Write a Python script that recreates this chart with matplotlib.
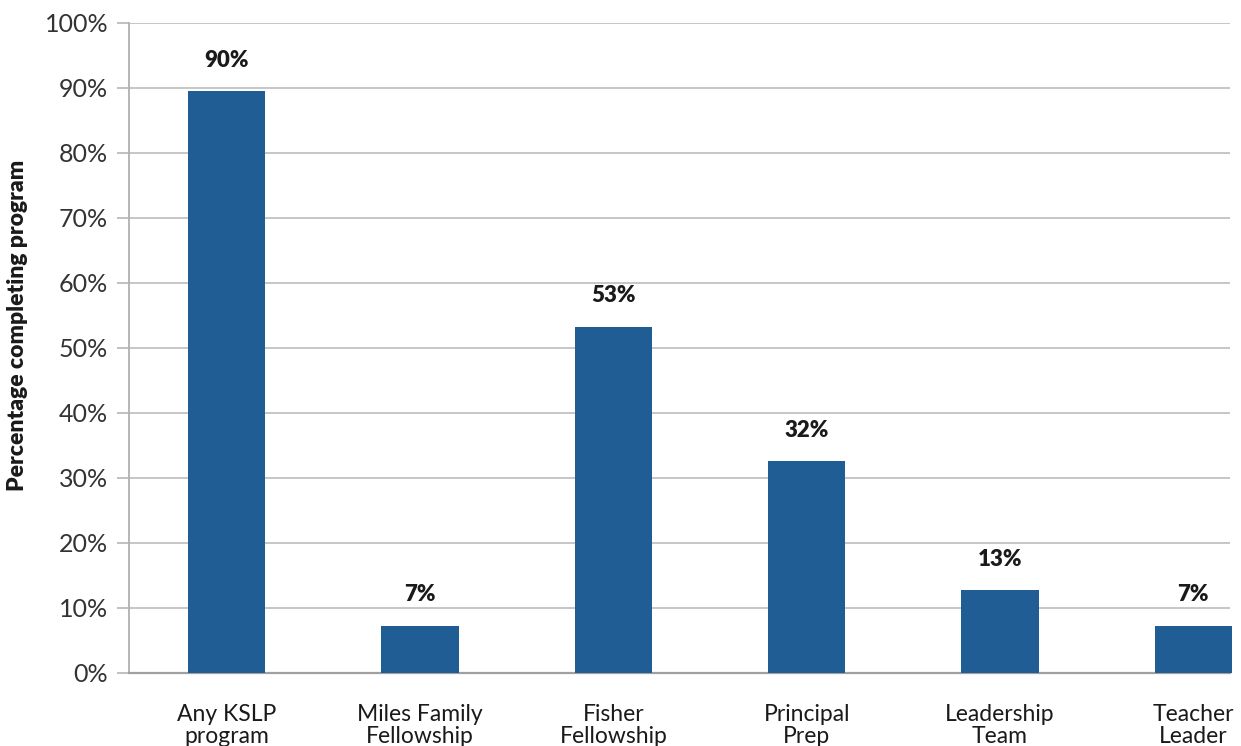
import matplotlib.pyplot as plt

categories = ["Any KSLP\nprogram", "Miles Family\nFellowship", "Fisher\nFellowship",
              "Principal\nPrep", "Leadership\nTeam", "Teacher\nLeader"]
values = [89.5, 7.3, 53.3, 32.6, 12.8, 7.3]
value_labels = ["90%", "7%", "53%", "32%", "13%", "7%"]
yticks = [0, 10, 20, 30, 40, 50, 60, 70, 80, 90, 100]

plt.rcParams['font.family'] = ['Lato', 'DejaVu Sans']

fig = plt.figure(figsize=(12.41, 7.46), dpi=100)
ax = fig.add_axes([0.1039, 0.0979, 0.8872, 0.8713])

x = list(range(len(categories)))
bars = ax.bar(x, values, width=0.4, color="#215d95", zorder=3, clip_on=False)

for b, lab in zip(bars, value_labels):
    ax.annotate(lab, (b.get_x() + b.get_width() / 2, b.get_height()),
                xytext=(0, 22), textcoords="offset points",
                ha="center", va="center", fontsize=16, fontweight="heavy",
                color="#1a1a1a", annotation_clip=False)

ax.set_xlim(-0.506, 5.19)
ax.set_ylim(0, 100)
ax.set_yticks(yticks)
ax.set_yticklabels([f"{t}%" for t in yticks], fontsize=18, color="#333333")
ax.set_xticks(x)
ax.set_xticklabels(categories, fontsize=16.5, color="#1a1a1a", linespacing=1.1)

ax.tick_params(axis="x", length=0, pad=22)
ax.tick_params(axis="y", length=9, width=1.2, color="#b5b5b5", pad=6)

ax.grid(axis="y", color="#c2c2c2", linewidth=1.3, zorder=0)
ax.set_axisbelow(True)

for s in ["top", "right"]:
    ax.spines[s].set_visible(False)
ax.spines["left"].set_color("#b0b0b0")
ax.spines["left"].set_linewidth(1.3)
ax.spines["bottom"].set_color("#a0a0a0")
ax.spines["bottom"].set_linewidth(1.6)

ax.set_ylabel("Percentage completing program", fontsize=16.5, fontweight="heavy", color="#1a1a1a")
ax.yaxis.set_label_coords(-0.092, 0.535)

fig.savefig("out.png", dpi=100)
